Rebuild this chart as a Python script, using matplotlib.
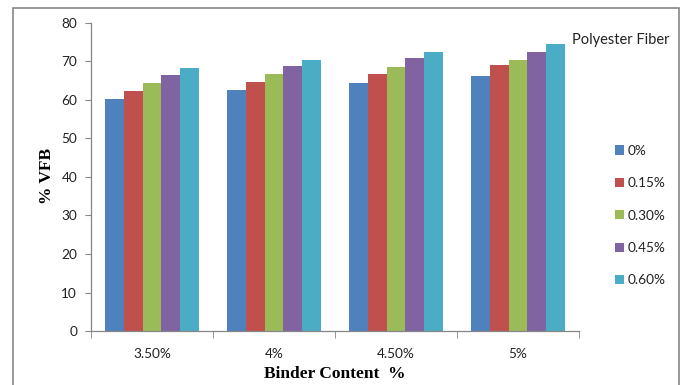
import numpy as np
import matplotlib.pyplot as plt
from matplotlib.patches import Rectangle

# binder content groups and fiber dosages
binder = ['3.50%', '4%', '4.50%', '5%']
fiber = ['0%', '0.15%', '0.30%', '0.45%', '0.60%']

# % VFB, one list per fiber dosage (across binder contents)
vfb_0 = [60.2, 62.5, 64.5, 66.2]
vfb_015 = [62.4, 64.6, 66.7, 69.0]
vfb_030 = [64.3, 66.7, 68.6, 70.3]
vfb_045 = [66.5, 68.9, 70.9, 72.5]
vfb_060 = [68.2, 70.4, 72.4, 74.6]
series = [vfb_0, vfb_015, vfb_030, vfb_045, vfb_060]

colors = ['#4F81BD', '#C0504D', '#9BBB59', '#8064A2', '#4BACC6']

fig = plt.figure(figsize=(6.88, 3.85), dpi=100)
ax = fig.add_axes([91/688, 1-331/385, (579-91)/688, (331-23)/385])

x = np.arange(len(binder))
w = 0.153
for i, (vals, c, lab) in enumerate(zip(series, colors, fiber)):
    ax.bar(x + (i - 2) * w, vals, width=w, color=c, label=lab)

ax.set_xlim(-0.5, 3.5)
ax.set_ylim(0, 80)
ax.set_yticks(range(0, 81, 10))
ax.set_xticks(x)
ax.set_xticklabels(binder)
ax.set_xticks(np.arange(-0.5, 4, 1), minor=True)
ax.tick_params(axis='x', which='major', length=0, pad=12)
ax.tick_params(axis='x', which='minor', length=5, color='#868686')
ax.tick_params(axis='y', length=4, color='#868686', pad=6)
for t in ax.get_xticklabels() + ax.get_yticklabels():
    t.set_fontfamily('Lato')
    t.set_fontsize(9.8)
    t.set_color('#222222')

for s in ['top', 'right']:
    ax.spines[s].set_visible(False)
for s in ['left', 'bottom']:
    ax.spines[s].set_color('#868686')
    ax.spines[s].set_linewidth(0.9)

fig.text(47/688, 1-176/385, '% VFB', rotation=90, ha='center', va='center',
         fontfamily='Liberation Serif', fontweight='bold', fontsize=12.5)
fig.text(335/688, 1-374/385, 'Binder Content  %', ha='center', va='center',
         fontfamily='Liberation Serif', fontweight='bold', fontsize=12.5)

fig.text(572/688, 1-40/385, 'Polyester Fiber', ha='left', va='center',
         fontfamily='Lato', fontsize=10.5, color='#222222')
leg = ax.legend(loc='upper left', bbox_to_anchor=(608/688, 1-138/385),
                bbox_transform=fig.transFigure, frameon=False,
                prop={'family': 'Lato', 'size': 9.8},
                handlelength=0.65, handleheight=0.65, handletextpad=0.3,
                labelspacing=1.5, borderpad=0)
for t in leg.get_texts():
    t.set_color('#222222')

# outer chart border
fig.patches.append(Rectangle((13/688, -0.05), (679-13)/688, 1-8/385+0.05,
                             transform=fig.transFigure, fill=False,
                             edgecolor='#868686', linewidth=1.2))

fig.savefig('out.png', dpi=100)
